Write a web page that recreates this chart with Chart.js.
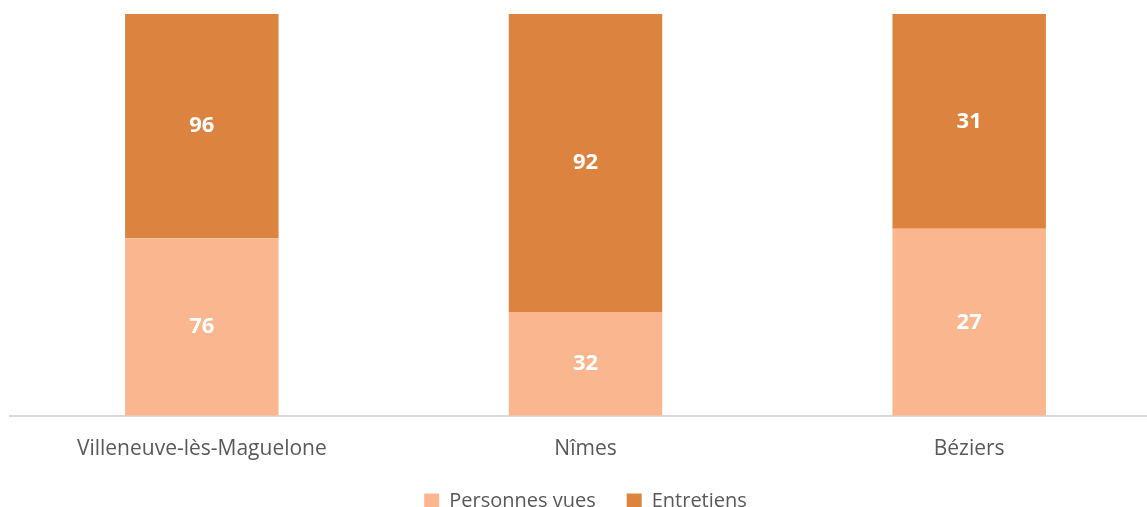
<!DOCTYPE html>
<html>
<head>
<meta charset="utf-8">
<script src="https://cdn.jsdelivr.net/npm/chart.js@4/dist/chart.umd.min.js"></script>
<style>
html,body{margin:0;padding:0;background:#fff;overflow:hidden;}
#wrap{width:1180px;height:507px;position:relative;}
</style>
</head>
<body>
<div id="wrap"><canvas id="c"></canvas></div>
<script>
const categories = ["Villeneuve-lès-Maguelone", "Nîmes", "Béziers"];
const personnesVues = [76, 32, 27];
const entretiens = [96, 92, 31];
const seriesNames = ["Personnes vues", "Entretiens"];

const totals = categories.map((_, i) => personnesVues[i] + entretiens[i]);
const pct = arr => arr.map((v, i) => v / totals[i] * 100);
const rawValues = [personnesVues, entretiens];

const labelPlugin = {
  id: 'segLabels',
  afterDatasetsDraw(chart) {
    const ctx = chart.ctx;
    ctx.save();
    ctx.font = 'bold 22px "Open Sans", sans-serif';
    ctx.fillStyle = '#ffffff';
    ctx.textAlign = 'center';
    ctx.textBaseline = 'middle';
    chart.data.datasets.forEach((ds, di) => {
      const meta = chart.getDatasetMeta(di);
      meta.data.forEach((bar, i) => {
        const y = (bar.y + bar.base) / 2;
        ctx.fillText(String(rawValues[di][i]), bar.x, y);
      });
    });
    ctx.restore();
  }
};

new Chart(document.getElementById('c'), {
  type: 'bar',
  data: {
    labels: categories,
    datasets: [
      { label: seriesNames[0], data: pct(personnesVues), backgroundColor: '#F9B68F' },
      { label: seriesNames[1], data: pct(entretiens), backgroundColor: '#DC843F' }
    ]
  },
  options: {
    responsive: true,
    maintainAspectRatio: false,
    animation: false,
    layout: { padding: { top: 14, left: 10, right: 19, bottom: -14 } },
    datasets: { bar: { categoryPercentage: 1, barPercentage: 0.4 } },
    scales: {
      x: {
        stacked: true,
        grid: { display: false, drawTicks: false },
        border: { color: '#D9D9D9', width: 2 },
        ticks: { color: '#595959', font: { family: '"Open Sans", sans-serif', size: 21 }, padding: 21 },
        afterFit(scale) { scale.height = scale.height - 23; }
      },
      y: {
        stacked: true,
        display: false,
        min: 0, max: 100
      }
    },
    plugins: {
      legend: {
        position: 'bottom',
        labels: {
          color: '#595959',
          font: { family: '"Open Sans", sans-serif', size: 20 },
          boxWidth: 15, boxHeight: 15, padding: 31
        }
      },
      tooltip: { enabled: false }
    }
  },
  plugins: [labelPlugin]
});
</script>
</body>
</html>
